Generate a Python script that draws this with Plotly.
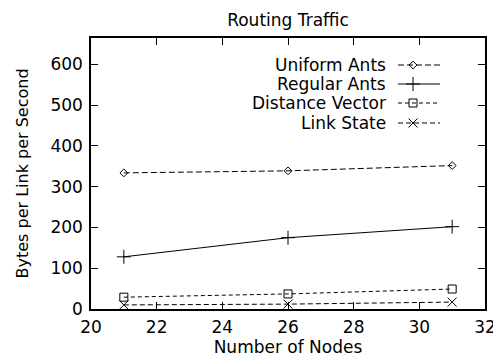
import plotly.graph_objects as go

nodes = [21, 26, 31]
uniform_ants = [334, 339, 352]
regular_ants = [128, 175, 202]
distance_vector = [29, 37, 49]
link_state = [10, 12, 17]

x_ticks = [20, 22, 24, 26, 28, 30, 32]
y_ticks = [0, 100, 200, 300, 400, 500, 600]

series = [
    ("Uniform Ants", uniform_ants, "diamond-open", 6, "6px,3px"),
    ("Regular Ants", regular_ants, "cross-thin-open", 10, "solid"),
    ("Distance Vector", distance_vector, "square-open", 8, "4px,3px"),
    ("Link State", link_state, "x-thin-open", 9, "5px,3px"),
]

FONT = "DejaVu Sans"
FS = 17
OFF = 8  # page body margin
W, H = 501 - OFF, 362 - OFF
L, R, T, B = 91 - OFF, 16, 38 - OFF, 53
pw, ph = W - L - R, H - T - B

fig = go.Figure()
for name, vals, sym, sz, dash in series:
    fig.add_trace(go.Scatter(
        x=nodes, y=vals, mode="lines+markers", name=name, showlegend=False,
        line=dict(color="black", width=1, dash=dash),
        marker=dict(symbol=sym, size=sz, color="black", line=dict(color="black", width=1)),
    ))

# custom legend (text left of key, gnuplot style) in screen-pixel overlay coords
rows = [65, 84, 103, 123]
for (name, vals, sym, sz, dash), ry in zip(series, rows):
    fig.add_trace(go.Scatter(
        x=[398, 440], y=[ry, ry], mode="lines", xaxis="x2", yaxis="y2", showlegend=False,
        line=dict(color="black", width=1, dash=dash), hoverinfo="skip"))
    fig.add_trace(go.Scatter(
        x=[413], y=[ry], mode="markers", xaxis="x2", yaxis="y2", showlegend=False,
        marker=dict(symbol=sym, size=sz, color="black", line=dict(color="black", width=1)),
        hoverinfo="skip"))
    fig.add_annotation(x=388, y=ry, xref="x2", yref="y2", text=name, showarrow=False,
                       xanchor="right", yanchor="middle",
                       font=dict(family=FONT, size=FS, color="black"))

axis_common = dict(
    showgrid=False, zeroline=False, showline=True, linecolor="black", linewidth=1.5,
    mirror="allticks", ticks="inside", ticklen=7, tickcolor="black", tickwidth=1,
    tickfont=dict(family=FONT, size=FS, color="black"), automargin=False,
)
fig.update_layout(
    width=W, height=H,
    margin=dict(l=L, r=R, t=T, b=B, autoexpand=False),
    paper_bgcolor="white", plot_bgcolor="white",
    title=dict(text="Routing Traffic", x=(L + pw / 2) / W, xanchor="center",
               y=1 - (20 - OFF) / H, yanchor="middle",
               font=dict(family=FONT, size=FS, color="black")),
    xaxis=dict(range=[20, 32], tickvals=x_ticks, ticktext=[str(v) for v in x_ticks],
               ticklabelstandoff=2,
               title=dict(text="Number of Nodes", standoff=2,
                          font=dict(family=FONT, size=FS, color="black")),
               **axis_common),
    yaxis=dict(range=[0, 665], tickvals=y_ticks, ticktext=[str(v) for v in y_ticks],
               ticklabelstandoff=3,
               title=dict(text="Bytes per Link per Second", standoff=18,
                          font=dict(family=FONT, size=16, color="black")),
               **axis_common),
    xaxis2=dict(range=[91, 485], domain=[0, 1], anchor="y2", overlaying="x", visible=False),
    yaxis2=dict(range=[309, 38], domain=[0, 1], anchor="x2", overlaying="y", visible=False),
)

fig.write_html("out.html")
